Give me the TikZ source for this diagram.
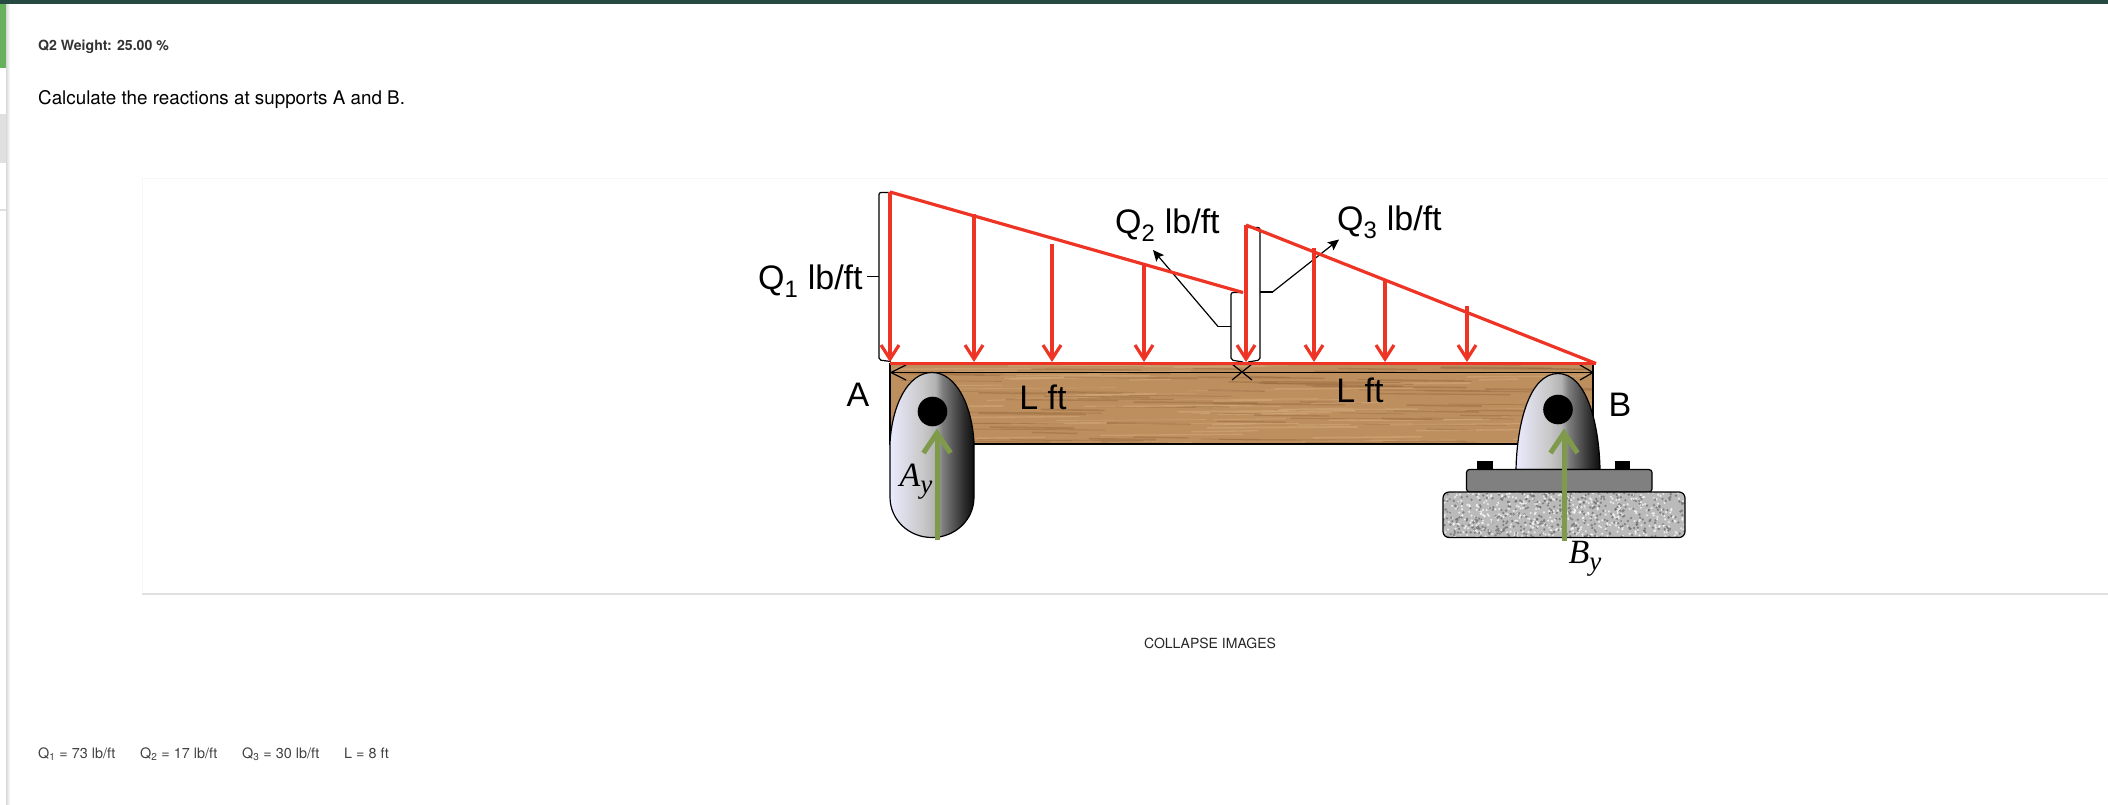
\documentclass[tikz,border=0pt]{standalone}
\usepackage{fontspec}
\setmainfont{TeX Gyre Heros}
\newfontfamily\arialfont{Liberation Sans}
\newfontfamily\serifmath{Liberation Serif}
\usepackage{tikz}
\usetikzlibrary{arrows.meta}
\usetikzlibrary{positioning}

\definecolor{barkgreen}{HTML}{264A42}
\definecolor{tabgreen}{HTML}{67B05E}
\definecolor{loadred}{HTML}{EE3424}
\definecolor{forcegreen}{HTML}{7F9A4A}
\definecolor{woodbase}{HTML}{BD8E5E}
\definecolor{wooddark}{HTML}{94683C}
\definecolor{woodlight}{HTML}{D4AB7C}
\definecolor{plategray}{HTML}{808080}

\pgfdeclarehorizontalshading{supportmetal}{100bp}{
  color(0bp)=(black!5!blue!8!white); color(25bp)=(black!5!blue!8!white);
  color(45bp)=(black!22); color(52bp)=(black!30); color(56bp)=(black!50);
  color(68bp)=(black!80); color(75bp)=(black!95); color(100bp)=(black!95)}

\newcommand{\forcelabel}[2]{#1\raisebox{-7pt}{\fontsize{27}{27}\selectfont #2}}

\tikzset{
  pagetext/.style={anchor=base west,inner sep=0pt},
  parmtext/.style={pagetext,text=black!75,font=\fontsize{14.4}{16}\selectfont},
  beamtext/.style={pagetext,font=\arialfont\fontsize{34}{36}\selectfont},
  mathtext/.style={inner sep=0pt,font=\serifmath\itshape\fontsize{34}{36}\selectfont},
  loadline/.style={draw=loadred,line width=3.2pt},
  loadarrow/.style={loadline,-{Straight Barb[length=14pt,width=18pt,line width=3.2pt]}},
  reaction/.style={draw=forcegreen,line width=5pt,-{Straight Barb[length=20pt,width=27pt,line width=5pt]}},
  bracket/.style={draw=black,line width=1.2pt,rounded corners=2pt},
  pointer/.style={draw=black,line width=1.2pt,-{Stealth[length=11pt,width=10pt,inset=2pt]}},
  dimline/.style={draw=black,line width=1.2pt},
  pin/.style={circle,fill=black,inner sep=0pt,minimum size=29.6pt},
  metal/.style={draw=black,line width=1.2pt,shading=supportmetal}
}

\begin{document}
\begin{tikzpicture}[x=1pt,y=-1pt]
  \useasboundingbox (0,0) rectangle (2108,804);

  % page around the picture
  \fill[barkgreen] (0,0) rectangle (2108,4);
  \fill[tabgreen] (0,4) rectangle (6,68);
  \fill[black!12] (0,114) rectangle (6,163);
  \fill[black!12] (0,209) rectangle (6,211);
  \shade[left color=black!15,right color=white] (6,4) rectangle (10,804);
  \draw[black!3,line width=1pt] (142,594) -- (142,178) -- (2108,178);
  \draw[black!12,line width=2pt] (142,594) -- (2108,594);

  \node[pagetext,text=black!80,font=\bfseries\fontsize{14.1}{16}\selectfont] (weight) at (38,50) {Q2 Weight: 25.00 \%};
  \node[pagetext,font=\fontsize{18.8}{20}\selectfont] (question) at (38,104) {Calculate the reactions at supports A and B.};
  \node[pagetext,text=black!85,anchor=base,font=\fontsize{14}{16}\selectfont] (collapse) at (1210,648) {COLLAPSE IMAGES};
  \node[parmtext] (parmq1) at (38,758) {Q\textsubscript{1} = 73 lb/ft};
  \node[parmtext] (parmq2) at (140,758) {Q\textsubscript{2} = 17 lb/ft};
  \node[parmtext] (parmq3) at (242,758) {Q\textsubscript{3} = 30 lb/ft};
  \node[parmtext] (parml) at (344,758) {L = 8 ft};

  % beam
  \fill[woodbase] (890,363) rectangle (1593,444);
  \begin{scope}
    \clip (890,363) rectangle (1593,444);
    \pgfmathsetseed{41}
    \foreach \i in {1,...,170}{
      \pgfmathsetmacro{\gx}{880+700*rnd}
      \pgfmathsetmacro{\gy}{364+80*rnd}
      \pgfmathsetmacro{\gl}{40+120*rnd}
      \pgfmathsetmacro{\gw}{0.6+1.2*rnd}
      \ifodd\i
        \draw[wooddark,opacity=.45,line width=\gw pt] (\gx,\gy) -- (\gx+\gl,\gy+1);
      \else
        \draw[woodlight,opacity=.55,line width=\gw pt] (\gx,\gy) -- (\gx+\gl,\gy-1);
      \fi
    }
  \end{scope}
  \draw[black,line width=1.2pt] (890,363) -- (890,444) -- (1593,444) -- (1593,363);

  % support A
  \draw[metal] (890,490) -- (890,443) .. controls (892,405) and (908,372.5) .. (932,372.5)
    .. controls (956,372.5) and (972,405) .. (974,443) -- (974,497)
    .. controls (974,520) and (955,537.5) .. (932,537.5) .. controls (909,537.5) and (890,520) .. (890,497) -- cycle;
  \node[pin] (pina) at (932.5,411.5) {};

  % support B
  \fill[black] (1477,460.5) rectangle (1492.5,469.5);
  \fill[black] (1615,460.5) rectangle (1630,469.5);
  \draw[metal] (1516,469.5) .. controls (1517,422) and (1530,373.5) .. (1558,373.5)
    .. controls (1586,373.5) and (1599,422) .. (1600,469.5) -- cycle;
  \node[pin] (pinb) at (1558,409.5) {};
  \draw[black,line width=1.2pt,fill=plategray,rounded corners=3pt] (1466.5,469.5) rectangle (1652,492);
  \begin{scope}
    \clip[rounded corners=6pt] (1443,492) rectangle (1685,537.5);
    \fill[black!27] (1443,492) rectangle (1685,537.5);
    \pgfmathsetseed{7}
    \foreach \i in {1,...,900}{
      \pgfmathsetmacro{\sx}{1443+242*rnd}
      \pgfmathsetmacro{\sy}{492+46*rnd}
      \ifodd\i
        \fill[black!58,opacity=.7] (\sx,\sy) circle (1.3pt);
      \else
        \fill[white,opacity=.7] (\sx,\sy) circle (1.2pt);
      \fi
    }
  \end{scope}
  \draw[black,line width=1.2pt,rounded corners=6pt] (1443,492) rectangle (1685,537.5);

  % dimension line
  \coordinate (dimleft) at (891,372.5);
  \coordinate (dimright) at (1593,372.5);
  \draw[dimline] (dimleft) -- (dimright);
  \draw[dimline] (906,365) -- (dimleft) -- (906,380);
  \draw[dimline] (1580,365) -- (dimright) -- (1580,380);
  \draw[dimline] (1232,364) -- (1252,380);
  \draw[dimline] (1232,380) -- (1252,364);

  % brackets
  \draw[bracket] (891,192.5) -- (879,192.5) -- (879,360) -- (891,361.5);
  \draw[bracket] (1243,292.5) -- (1231,292.5) -- (1231,360) -- (1243,362);
  \draw[bracket] (1248,227.5) -- (1260,227.5) -- (1260,360) -- (1248,362);
  \coordinate (q1tick) at (867,276.5);
  \draw[bracket] (q1tick) -- (879,276.5);
  \coordinate (q2tick) at (1218,326.5);
  \coordinate (q3tick) at (1272.5,292);
  \draw[bracket] (1231,326.5) -- (q2tick);
  \draw[bracket] (1260,292) -- (q3tick);

  \node[beamtext] (q1) at (758,289.5) {Q\textsubscript{1} lb/ft};
  \node[beamtext] (q2) at (1115,233.5) {Q\textsubscript{2} lb/ft};
  \node[beamtext] (q3) at (1337,230.5) {Q\textsubscript{3} lb/ft};
  \coordinate (q2head) at (1153,250);
  \coordinate (q3head) at (1339,239.5);
  \draw[pointer] (q2tick) -- (q2head);
  \draw[pointer] (q3tick) -- (q3head);

  % distributed load
  \coordinate (basea) at (890,363.5);
  \coordinate (baseb) at (1596,363.5);
  \coordinate (topa) at (890,192);
  \coordinate (midl) at (1243,292.5);
  \coordinate (midr) at (1246,225);
  \path[loadline]
    (topa) edge (midl)
    (midr) edge (baseb)
    (basea) edge[line width=3.8pt] (baseb);
  \path
    (topa) edge[loadarrow] (890,362)
    (974,214) edge[loadarrow] (974,362)
    (1052,244) edge[loadarrow] (1052,362)
    (1144,262.5) edge[loadarrow] (1144,362)
    (midr) edge[loadarrow] (1246,362)
    (1314,247.5) edge[loadarrow] (1314,362)
    (1385,280) edge[loadarrow] (1385,362)
    (1467,306) edge[loadarrow] (1467,362);

  % reactions
  \coordinate (ayfoot) at (937,539.5);
  \coordinate (aytip) at (937,428.5);
  \coordinate (byfoot) at (1564,540.5);
  \coordinate (bytip) at (1564,428.5);
  \draw[reaction] (ayfoot) -- (aytip);
  \draw[reaction] (byfoot) -- (bytip);

  \node[beamtext,anchor=center] (lefta) at (858,395) {A};
  \node[beamtext,anchor=center] (rightb) at (1620,405) {B};
  \node[beamtext,anchor=center] (lfta) at (1043,397) {L ft};
  \node[beamtext,anchor=center] (lftb) at (1360,390) {L ft};
  \node[mathtext] (ay) at (916,481.5) {\forcelabel{A}{y}};
  \node[mathtext] (by) at (1585,558.5) {\forcelabel{B}{y}};
\end{tikzpicture}
\end{document}
